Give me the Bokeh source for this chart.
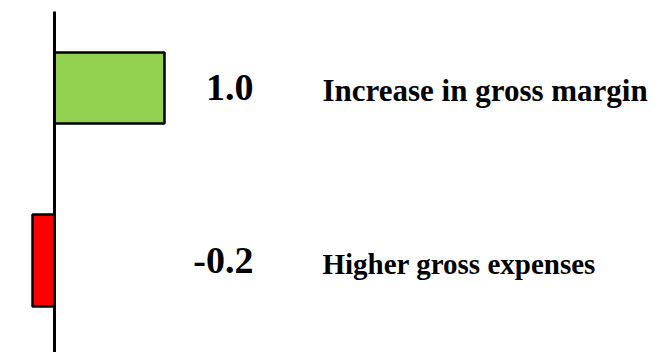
from bokeh.plotting import figure
from bokeh.models import Range1d, ColumnDataSource
from bokeh.core.properties import value
from bokeh.embed import file_html
from bokeh.resources import INLINE

# Data
items = ["Increase in gross margin", "Higher gross expenses"]
changes = [1.0, -0.2]
colors = ["#92D050", "#FF0000"]

# Layout (pixels measured from top-left of the canvas)
W, H = 656, 352
ZERO_PX = 54          # pixel column of the zero line
UNIT_PX = 110         # pixels per unit of change
bar_top = [52, 214]
bar_bottom = [123, 306]
number_mid = [87, 260]
label_mid = [90, 263]
number_right_px = 253
label_left_px = 322
number_size = ["38px", "38px"]
label_size = ["31px", "29px"]


def px_to_x(px):
    return (px - ZERO_PX) / UNIT_PX


p = figure(width=W, height=H, output_backend="svg", toolbar_location=None,
           x_range=Range1d(px_to_x(0), px_to_x(W)),
           y_range=Range1d(H, 0), min_border=0)
p.axis.visible = False
p.grid.visible = False
p.outline_line_color = None
p.background_fill_color = "white"
p.border_fill_color = "white"

src = ColumnDataSource(dict(
    left=[0.0] * len(changes), right=changes, top=bar_top, bottom=bar_bottom,
    color=colors,
    nx=[px_to_x(number_right_px)] * len(changes),
    lx=[px_to_x(label_left_px)] * len(changes),
    ny=number_mid, ly=label_mid,
    num=[f"{v:.1f}" for v in changes],
    label=items,
    nsize=number_size, lsize=label_size,
))

p.quad(left="left", right="right", top="top", bottom="bottom", source=src,
       fill_color="color", line_color="black", line_width=2.5)

# zero line
p.segment(x0=[0], y0=[11], x1=[0], y1=[H], line_color="black", line_width=3)

p.text(x="nx", y="ny", text="num", source=src, text_align="right",
       text_baseline="middle", text_font=value("Liberation Serif"),
       text_font_style="bold", text_font_size="nsize", text_color="black")
p.text(x="lx", y="ly", text="label", source=src, text_align="left",
       text_baseline="middle", text_font=value("Liberation Serif"),
       text_font_style="bold", text_font_size="lsize", text_color="black")

open("out.html", "w").write(file_html(p, INLINE))
